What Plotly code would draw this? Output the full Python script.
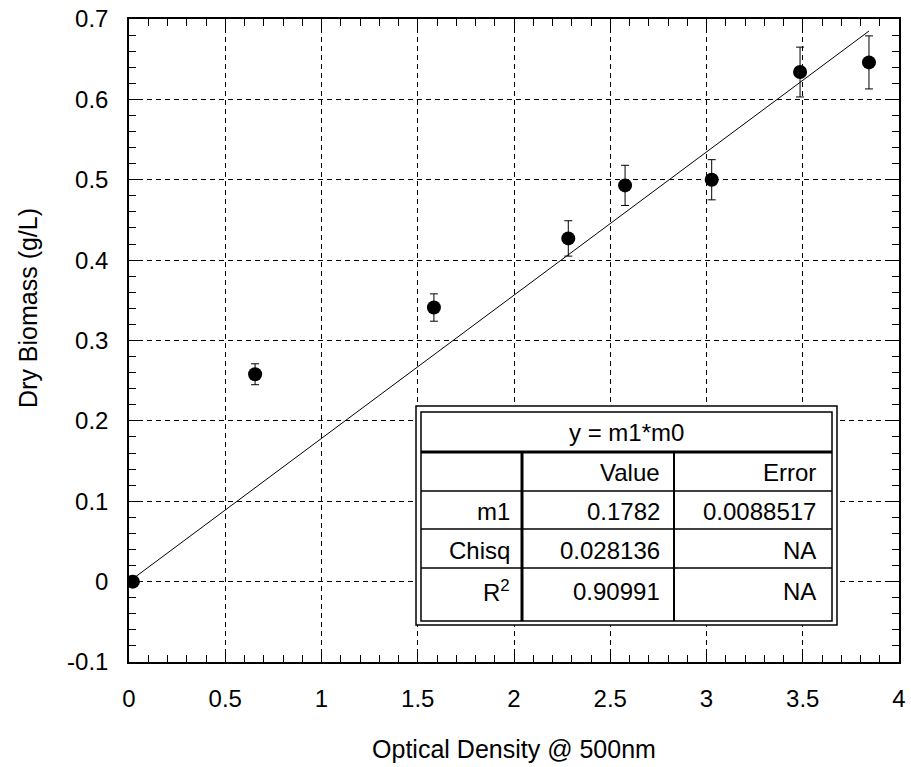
import plotly.graph_objects as go

# ---- data ----
od = [0.02, 0.655, 1.584, 2.282, 2.577, 3.027, 3.486, 3.844]
biomass = [0.0, 0.258, 0.341, 0.427, 0.493, 0.500, 0.634, 0.646]
err = [0.0, 0.013, 0.017, 0.022, 0.025, 0.025, 0.031, 0.033]
slope = 0.1782
fit_x = [0.0, 3.844]
fit_y = [slope * v for v in fit_x]

x_ticks = [0, 0.5, 1, 1.5, 2, 2.5, 3, 3.5, 4]
x_ticktext = ["0", "0.5", "1", "1.5", "2", "2.5", "3", "3.5", "4"]
y_ticks = [-0.1, 0, 0.1, 0.2, 0.3, 0.4, 0.5, 0.6, 0.7]
y_ticktext = ["-0.1", "0", "0.1", "0.2", "0.3", "0.4", "0.5", "0.6", "0.7"]

table_title = "y = m1*m0"
table_header = ["", "Value", "Error"]
table_rows = [["m1", "0.1782", "0.0088517"],
              ["Chisq", "0.028136", "NA"],
              ["R<sup>2</sup>", "0.90991", "NA"]]

FONT = "Liberation Sans, Arial, sans-serif"

# layout geometry (pixels of the 911x767 page)
L, R, T, B = 129, 899, 19, 662
W, H = 911, 767


def px(xp):
    return (xp - L) / (R - L)


def py(yp):
    return (B - yp) / (B - T)


fig = go.Figure()
fig.add_trace(go.Scatter(x=fit_x, y=fit_y, mode="lines",
                         line=dict(color="black", width=1), hoverinfo="skip"))
fig.add_trace(go.Scatter(x=od, y=biomass, mode="markers",
                         marker=dict(color="black", size=14),
                         error_y=dict(type="data", array=err, color="black",
                                      thickness=1, width=4)))

shapes = []
# outer double border with white fill
shapes.append(dict(type="rect", xref="paper", yref="paper",
                   x0=px(416), x1=px(837), y0=py(625), y1=py(406),
                   fillcolor="white", line=dict(color="black", width=1.5), layer="above"))
shapes.append(dict(type="rect", xref="paper", yref="paper",
                   x0=px(421), x1=px(832), y0=py(621), y1=py(412),
                   line=dict(color="black", width=1.5), layer="above"))
# header separator (thick)
shapes.append(dict(type="line", xref="paper", yref="paper",
                   x0=px(421), x1=px(832), y0=py(452), y1=py(452),
                   line=dict(color="black", width=3), layer="above"))
# row separators
for yy in (491, 529, 568):
    shapes.append(dict(type="line", xref="paper", yref="paper",
                       x0=px(421), x1=px(832), y0=py(yy), y1=py(yy),
                       line=dict(color="black", width=1.3), layer="above"))
# column separators
shapes.append(dict(type="line", xref="paper", yref="paper",
                   x0=px(522), x1=px(522), y0=py(452), y1=py(621),
                   line=dict(color="black", width=3), layer="above"))
shapes.append(dict(type="line", xref="paper", yref="paper",
                   x0=px(674), x1=px(674), y0=py(452), y1=py(621),
                   line=dict(color="black", width=2), layer="above"))

annotations = []
tf = dict(family=FONT, size=24, color="black")
annotations.append(dict(xref="paper", yref="paper", x=px(626), y=py(432),
                        text=table_title, showarrow=False, font=tf,
                        xanchor="center", yanchor="middle"))
col_right = [512, 662, 818]
row_y = [472, 511, 550, 591]
all_rows = [table_header] + table_rows
for ri, row in enumerate(all_rows):
    for ci, cell in enumerate(row):
        if not cell:
            continue
        annotations.append(dict(xref="paper", yref="paper",
                                x=px(col_right[ci]), y=py(row_y[ri]),
                                text=cell, showarrow=False, font=tf,
                                xanchor="right", yanchor="middle"))

# y-axis title (placed as annotation to match its vertical offset)
annotations.append(dict(xref="paper", yref="paper", x=px(28), y=py(308),
                        text="Dry Biomass (g/L)", textangle=-90, showarrow=False,
                        font=dict(family=FONT, size=25, color="black"),
                        xanchor="center", yanchor="middle"))

axis_common = dict(showline=True, linecolor="black", linewidth=1.5,
                   mirror="allticks", ticks="inside", ticklen=12, tickwidth=1,
                   tickcolor="black", showgrid=True, gridcolor="black",
                   gridwidth=1, griddash="5px,4px", zeroline=False,
                   automargin=False,
                   tickfont=dict(family=FONT, size=24, color="black"))

fig.update_layout(
    width=W, height=H,
    margin=dict(l=L, r=W - R, t=T, b=H - B),
    paper_bgcolor="white", plot_bgcolor="white",
    showlegend=False,
    shapes=shapes, annotations=annotations,
    xaxis=dict(range=[0, 4], tickvals=x_ticks, ticktext=x_ticktext,
               minor=dict(dtick=0.1, tick0=0, ticks="inside", ticklen=7,
                          tickcolor="black", showgrid=False),
               ticklabelstandoff=14,
               title=dict(text="Optical Density @ 500nm", standoff=30,
                          font=dict(family=FONT, size=25, color="black")),
               **axis_common),
    yaxis=dict(range=[-0.1, 0.7], tickvals=y_ticks, ticktext=y_ticktext,
               minor=dict(dtick=0.02, tick0=0, ticks="inside", ticklen=7,
                          tickcolor="black", showgrid=False),
               ticklabelstandoff=14,
               **axis_common),
)

fig.write_html("out.html")
